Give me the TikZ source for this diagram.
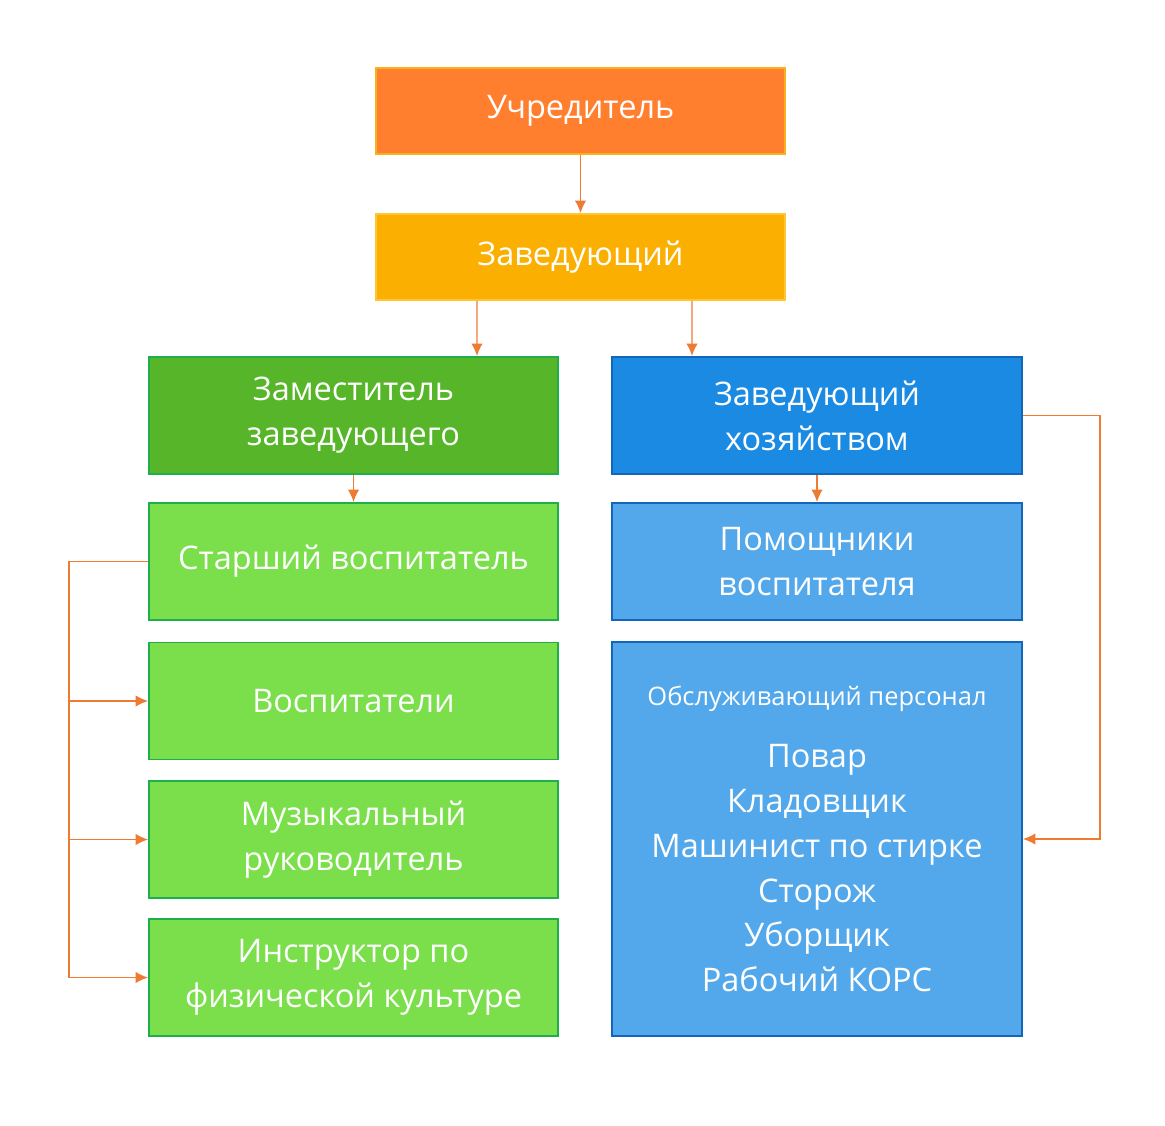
\documentclass[tikz,border=0pt]{standalone}
\usepackage{fontspec}
\setmainfont{Open Sans}
\usetikzlibrary{arrows.meta,positioning}
\definecolor{TopOrange}{HTML}{FF7F2F}
\definecolor{TopEdge}{HTML}{F7B21B}
\definecolor{HeadYellow}{HTML}{FBAF00}
\definecolor{HeadEdge}{HTML}{FFC533}
\definecolor{DarkGreen}{HTML}{56B528}
\definecolor{LightGreen}{HTML}{7ADF4A}
\definecolor{GreenEdge}{HTML}{1DAF4C}
\definecolor{DarkBlue}{HTML}{1B8AE3}
\definecolor{LightBlue}{HTML}{52A8EA}
\definecolor{BlueEdge}{HTML}{1466B8}
\definecolor{LinkOrange}{HTML}{EF7B33}

\begin{document}
\begin{tikzpicture}[x=0.02cm,y=-0.02cm,
  box/.style={draw,line width=1.1pt,minimum width=8.18cm,minimum height=2.34cm,
    align=center,text=white,font=\fontsize{18.5}{25.5}\selectfont,inner sep=2pt},
  arr/.style={-{Latex[length=2.5mm,width=2.3mm]},LinkOrange,line width=.8pt}]
\useasboundingbox (0,0) rectangle (1165,1125);
% top
\node[box,fill=TopOrange,draw=TopEdge,minimum height=1.72cm] (uchr) at (580.5,111) {Учредитель};
\node[box,fill=HeadYellow,draw=HeadEdge,minimum height=1.72cm] (zav) at (580.5,257) {Заведующий};
% left column
\node[box,fill=DarkGreen,draw=GreenEdge] (zam) at (353.5,415.5) {Заместитель\\заведующего};
\node[box,fill=LightGreen,draw=GreenEdge] (star) at (353.5,561.5) {Старший воспитатель};
\node[box,fill=LightGreen,draw=GreenEdge] (vosp) at (353.5,701) {Воспитатели};
\node[box,fill=LightGreen,draw=GreenEdge] (muz) at (353.5,839.5) {Музыкальный\\руководитель};
\node[box,fill=LightGreen,draw=GreenEdge] (instr) at (353.5,977.5) {Инструктор по\\физической культуре};
% right column
\node[box,fill=DarkBlue,draw=BlueEdge,minimum width=8.2cm] (zavhoz) at (817,415.5) {Заведующий\\хозяйством};
\node[box,fill=LightBlue,draw=BlueEdge,minimum width=8.2cm] (pom) at (817,561.5) {Помощники\\воспитателя};
\node[box,fill=LightBlue,draw=BlueEdge,minimum width=8.2cm,minimum height=7.88cm] (obsl) at (817,839)
  {{\fontsize{14.5}{15}\selectfont Обслуживающий персонал}\\[0.35cm]Повар\\Кладовщик\\Машинист по стирке\\Сторож\\Уборщик\\Рабочий КОРС};
% links
\coordinate (lbus) at (69,561.5);
\coordinate (rbus) at (1100,415.5);
\draw[arr] (uchr) -- (zav);
\draw[arr] ([xshift=-2.07cm]zav.south) -- ([xshift=2.47cm]zam.north);
\draw[arr] ([xshift=2.23cm]zav.south) -- ([xshift=-2.5cm]zavhoz.north);
\draw[arr] (zam) -- (star);
\draw[arr] (zavhoz) -- (pom);
\draw[arr] (star.west) -- (lbus) |- (vosp.west);
\draw[arr] (lbus) |- (muz.west);
\draw[arr] (lbus) |- (instr.west);
\draw[arr] (zavhoz.east) -- (rbus) |- (obsl.east);
\end{tikzpicture}
\end{document}
